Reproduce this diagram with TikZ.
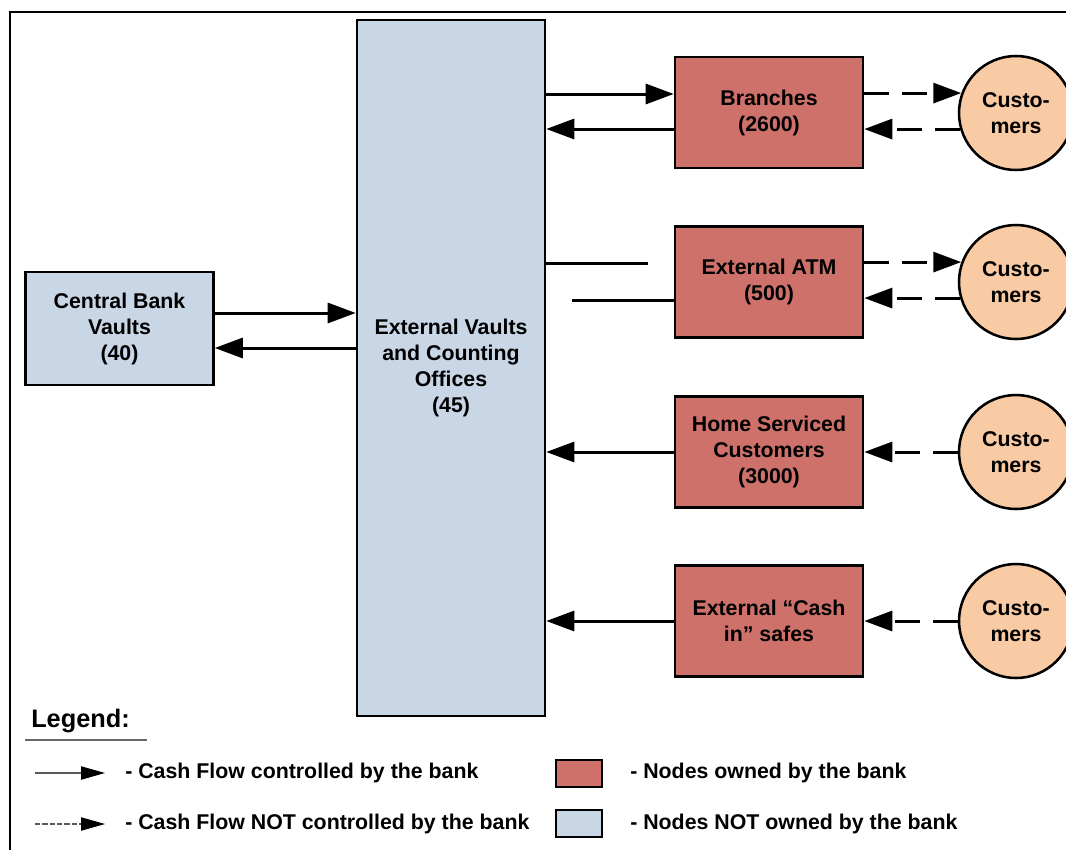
\documentclass[tikz,border=0pt]{standalone}
\usepackage{fontspec}
\setmainfont{Liberation Sans}
\usetikzlibrary{arrows.meta}
\definecolor{ownfill}{RGB}{205,113,106}
\definecolor{extfill}{RGB}{201,214,230}
\definecolor{custfill}{RGB}{249,203,165}
\begin{document}
\begin{tikzpicture}[x=0.75pt,y=-0.75pt,
  every node/.style={font=\fontsize{16}{19.5}\selectfont\bfseries},
  box/.style={draw,line width=1.9pt,align=center,inner sep=0pt,
    minimum width=141pt,minimum height=83.5pt},
  ownbox/.style={box,fill=ownfill},
  extbox/.style={box,fill=extfill},
  custnode/.style={circle,draw,line width=1.9pt,fill=custfill,align=center,
    minimum size=85.5pt,inner sep=0pt},
  flow/.style={line width=2.25pt,-{Triangle[length=21pt,width=15pt]}},
  plainflow/.style={line width=2.25pt},
  dflow/.style={flow,dash pattern=on 18.75pt off 9.75pt},
  legtext/.style={anchor=west,inner sep=0pt},
  legflow/.style={line width=0.9pt,draw=black!65,
    -{Triangle[length=18pt,width=10pt,fill=black,color=black]}},
  legswatch/.style={draw,line width=1pt,minimum width=34.5pt,minimum height=20.25pt,inner sep=0pt}
]
\useasboundingbox (0,0) rectangle (1066,850);
\clip (0,0) rectangle (1066,850);
\fill[white] (0,0) rectangle (1066,850);

% outer frame (top and left edges)
\draw[line width=1.6pt] (10,850) -- (10,12) -- (1066,12);

% nodes
\node[extbox,minimum height=84.75pt] (cb) at (119.5,328.5) {Central Bank\\Vaults\\(40)};
\node[extbox,minimum height=522pt] (ev) at (451,368) {External Vaults\\and Counting\\Offices\\(45)};
\node[ownbox] (br) at (769,112.5) {Branches\\(2600)};
\node[ownbox] (atm) at (769,282) {External ATM\\(500)};
\node[ownbox] (home) at (769,452) {Home Serviced\\Customers\\(3000)};
\node[ownbox] (safe) at (769,621) {External “Cash\\in” safes};
\node[custnode] (c1) at (1016,113) {Custo-\\mers};
\node[custnode] (c2) at (1016,282) {Custo-\\mers};
\node[custnode] (c3) at (1016,452) {Custo-\\mers};
\node[custnode] (c4) at (1016,621) {Custo-\\mers};

% row positions of the connectors
\coordinate (r1) at (0,313);
\coordinate (r2) at (0,348);
\coordinate (b1) at (0,94);
\coordinate (b2) at (0,129);
\coordinate (a1) at (0,263);
\coordinate (a2) at (0,300);
\coordinate (aend) at (648,263);
\coordinate (astart) at (572,300);

% central bank <-> external vaults
\draw[flow] (cb.east |- r1) -- (ev.west |- r1);
\draw[flow] (ev.west |- r2) -- (cb.east |- r2);

% external vaults <-> bank nodes
\draw[flow] (ev.east |- b1) -- (br.west |- b1);
\draw[flow] (br.west |- b2) -- (ev.east |- b2);
\draw[plainflow] (ev.east |- a1) -- (aend);
\draw[plainflow] (astart) -- (atm.west |- a2);
\draw[flow] (home.west) -- (ev.east |- home.west);
\draw[flow] (safe.west) -- (ev.east |- safe.west);

% bank nodes <-> customers
\draw[dflow] (br.east |- c1.160) -- (c1.160);
\draw[dflow] (c1.196) -- (br.east |- c1.196);
\draw[dflow] (atm.east |- c2.160) -- (c2.160);
\draw[dflow] (c2.196) -- (atm.east |- c2.196);
\draw[dflow] (c3.west) -- (home.east);
\draw[dflow] (c4.west) -- (safe.east);

% legend
\node[anchor=west,inner sep=0pt,font=\fontsize{19}{22}\selectfont\bfseries] (leg) at (31,721) {Legend:};
\draw[line width=1.5pt,black!60] (25,740) -- (147,740);

\coordinate (l1s) at (35,773);
\coordinate (l1e) at (105,773);
\coordinate (l2s) at (35,824);
\coordinate (l2e) at (105,824);
\draw[legflow] (l1s) -- (l1e);
\draw[legflow,dash pattern=on 4pt off 1.5pt] (l2s) -- (l2e);
\node[legtext] (t1) at (125,773) {- Cash Flow controlled by the bank};
\node[legtext] (t2) at (125,824) {- Cash Flow NOT controlled by the bank};

\node[legswatch,fill=ownfill] (s1) at (579,773.5) {};
\node[legswatch,fill=extfill] (s2) at (579,823.5) {};
\node[legtext] (t3) at (630,773) {- Nodes owned by the bank};
\node[legtext] (t4) at (630,824) {- Nodes NOT owned by the bank};
\end{tikzpicture}
\end{document}
